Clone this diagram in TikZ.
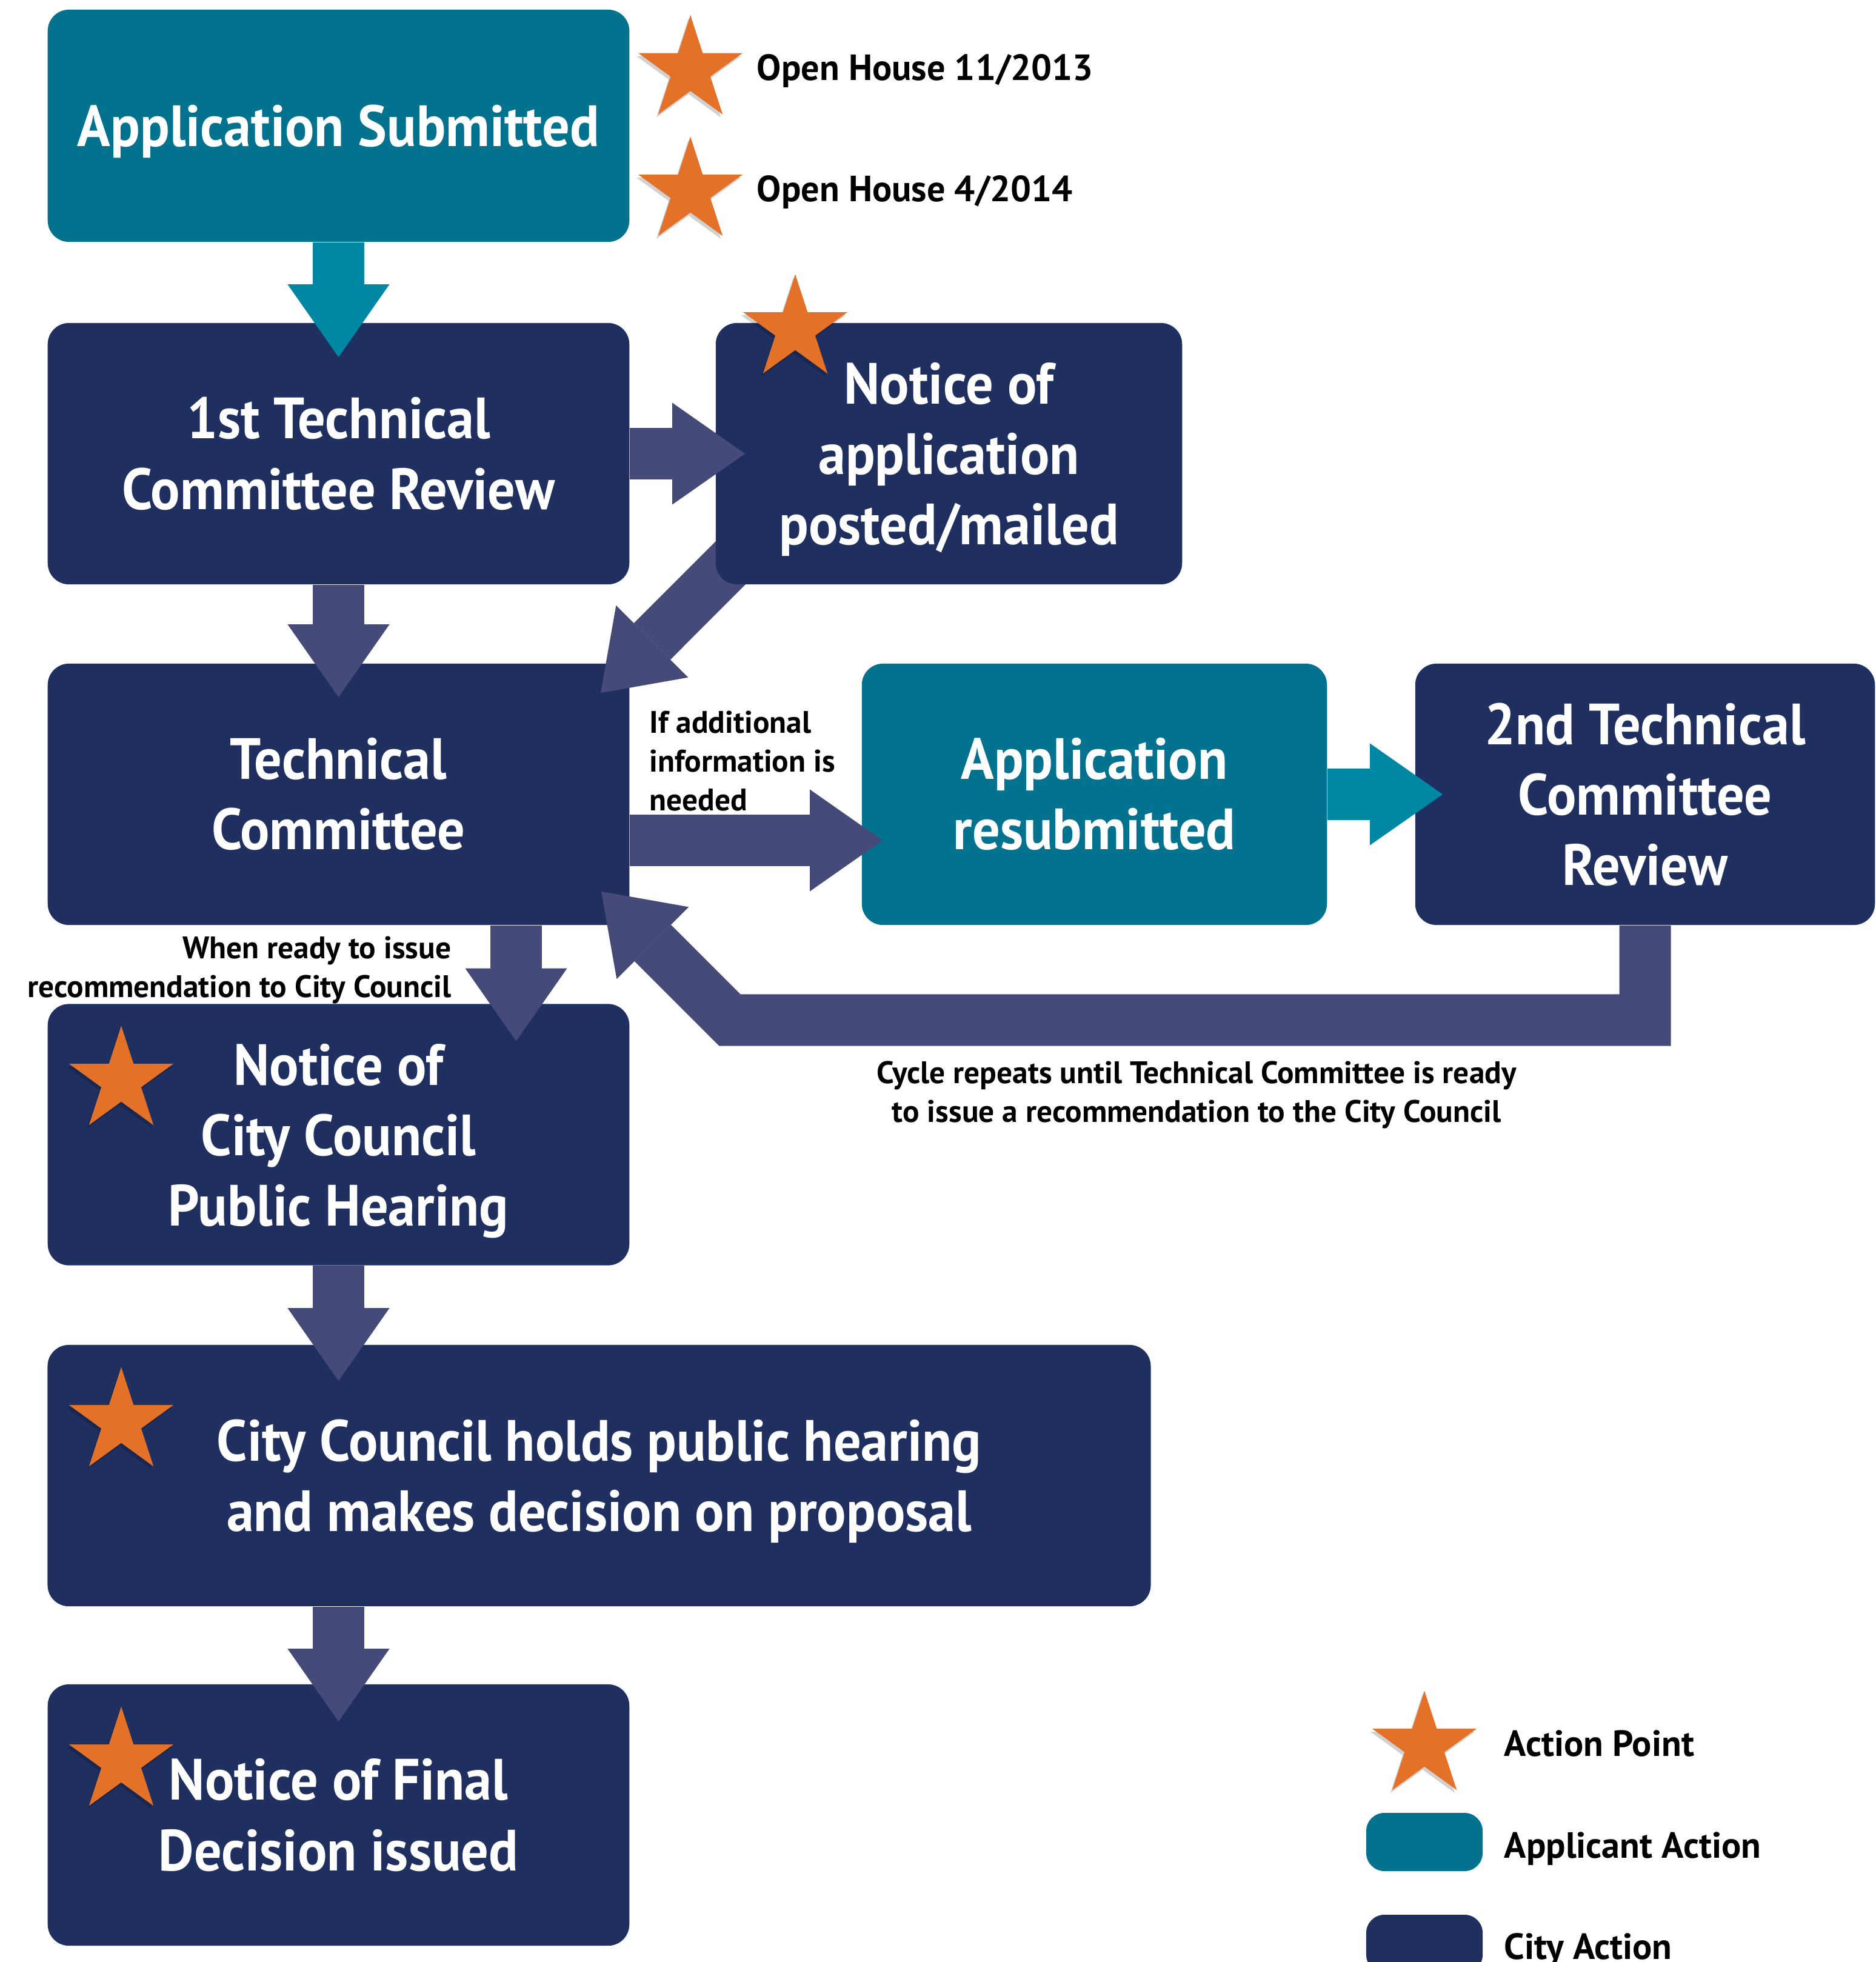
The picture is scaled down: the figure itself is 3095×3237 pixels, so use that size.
\documentclass[tikz,border=0pt]{standalone}
\usepackage{fontspec}
\setmainfont{PT Sans}
\newfontfamily\boxfam{PT Sans}[FakeStretch=0.94]
\usetikzlibrary{arrows.meta,shapes.geometric,calc,shadows}
\definecolor{navy}{RGB}{31,47,96}
\definecolor{cityarr}{RGB}{69,74,120}
\definecolor{tealbox}{RGB}{3,114,143}
\definecolor{tealarr}{RGB}{0,135,163}
\definecolor{orangestar}{RGB}{227,113,40}
\newcommand\bxfont{\boxfam\bfseries\fontsize{27.3}{33}\selectfont}
\newcommand\ntfont{\bfseries\fontsize{14.6}{18.2}\selectfont}
\newcommand\lgfont{\bfseries\fontsize{17.1}{22}\selectfont}
\newcommand\nodepth[1]{\raisebox{0pt}[\height][0pt]{#1}}
\tikzset{
  box/.style={rectangle, rounded corners=0.35cm, inner sep=0pt, text=white,
    align=center, font=\bxfont, minimum height=4.31cm},
  citybox/.style={box, fill=navy},
  appbox/.style={box, fill=tealbox},
  blockarrow/.style={line width=0.85cm, line join=miter,
    -{Triangle[width=1.68cm,length=1.2cm,line width=0pt]}},
  cityarrow/.style={blockarrow, draw=cityarr},
  apparrow/.style={blockarrow, draw=tealarr},
  actstar/.style={star, star points=5, star point ratio=2.618,
    minimum size=1.81cm, inner sep=0pt, fill=orangestar, draw=none,
    drop shadow={shadow xshift=-0.03cm, shadow yshift=-0.05cm, opacity=0.18, fill=black}},
  note/.style={font=\ntfont, text=black, inner sep=0pt},
  legtext/.style={font=\lgfont, text=black, inner sep=0pt, anchor=base west},
  legbox/.style={rectangle, rounded corners=0.3cm, minimum width=1.92cm,
    minimum height=0.96cm, inner sep=0pt}
}
\begin{document}
\begin{tikzpicture}[x=0.01cm, y=-0.01cm]
\useasboundingbox (0,0) rectangle (3095,3237);

% boxes
\node[appbox, minimum width=9.59cm, minimum height=3.83cm] (A) at (558.5,207.5) {\nodepth{Application Submitted}};
\node[citybox, minimum width=9.59cm] (T1) at (558.5,748.5) {1st Technical\\Committee Review};
\node[citybox, minimum width=9.59cm] (TC) at (558.5,1310.5) {Technical\\Committee};
\node[appbox, minimum width=7.67cm] (AR) at (1805.5,1310.5) {Application\\resubmitted};
\node[citybox, minimum width=7.58cm] (R2) at (2714,1310.5) {2nd Technical\\Committee\\Review};
\node[citybox, minimum width=9.59cm] (NC) at (558.5,1872) {Notice of\\City Council\\\nodepth{Public Hearing}};
\node[citybox, minimum width=18.19cm] (CC) at (988.5,2434.5) {City Council holds public hearing\\\nodepth{and makes decision on proposal}};
\node[citybox, minimum width=9.59cm] (F) at (558.5,2994.5) {Notice of Final\\Decision issued};

% diagonal arrow from the notice box (drawn behind it) to the technical committee
\coordinate (dstart) at (1230,904);
\draw[cityarrow] (dstart) -- ($(TC.north east)+(-48,49)$);

\node[citybox, minimum width=7.69cm] (N) at (1565.5,748.5) {Notice of\\application\\\nodepth{posted/mailed}};

% connectors
\draw[apparrow] (A.south) -- ($(T1.north)+(0,57)$);
\draw[cityarrow] (T1.south) -- ($(TC.north)+(0,56)$);
\draw[cityarrow] (T1.east) -- ($(N.west)+(49,0)$);
\draw[cityarrow] ($(TC.east)+(0,76)$) -- ($(AR.west)+(35,76)$);
\draw[apparrow] (AR.east) -- ($(R2.west)+(46,0)$);
\coordinate (loopc) at (1204,1683);
\draw[cityarrow] (R2.south) |- (loopc) -- ($(TC.south east)+(-47,-56)$);
\draw[cityarrow] ($(TC.south)+(293,0)$) -- ($(NC.north)+(293,62)$);
\draw[cityarrow] (NC.south) -- ($(NC.south |- CC.north)+(0,60)$);
\draw[cityarrow] (CC.south -| F.north) -- ($(F.north)+(0,62)$);

% stars
\node[actstar] (s1) at (1139,115.5) {};
\node[actstar] (s2) at (1139,316) {};
\node[actstar] (s3) at (1312,543) {};
\node[actstar] (s4) at (200,1783) {};
\node[actstar] (s5) at (200,2346) {};
\node[actstar] (s6) at (200,2906) {};

% labels (base anchor = baseline of the last line)
\node[legtext] (oh1) at (1248,133) {Open House 11/2013};
\node[legtext] (oh2) at (1248,333) {Open House 4/2014};
\node[note, anchor=base west, align=left] (ifadd) at (1071,1337) {If additional\\information is\\needed};
\node[note, anchor=base east, align=right] (ready) at (745,1645) {When ready to issue\\recommendation to City Council};
\node[note, anchor=base, align=center] (cycle) at (1974,1851) {Cycle repeats until Technical Committee is ready\\to issue a recommendation to the City Council};

% legend
\node[actstar] (ls) at (2350,2880) {};
\node[legtext] (lt1) at (2481,2897) {Action Point};
\node[legbox, fill=tealbox] (lb2) at (2350,3039) {};
\node[legtext] (lt2) at (2481,3065) {Applicant Action};
\node[legbox, fill=navy] (lb3) at (2350,3207) {};
\node[legtext] (lt3) at (2481,3232) {City Action};
\end{tikzpicture}
\end{document}
